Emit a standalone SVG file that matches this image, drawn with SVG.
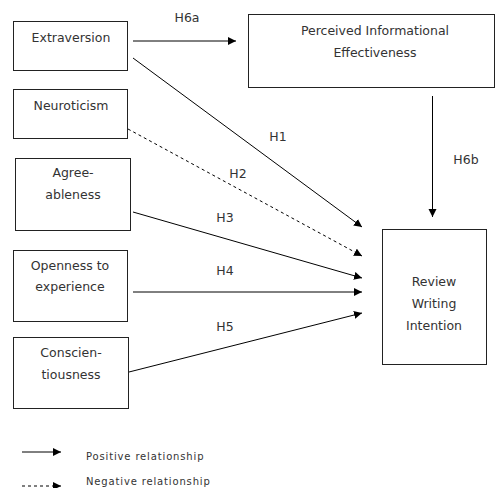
<svg xmlns="http://www.w3.org/2000/svg" width="496" height="488" viewBox="0 0 496 488">
<defs>
<marker id="ah" markerUnits="userSpaceOnUse" markerWidth="10" markerHeight="10" refX="8" refY="4" orient="auto">
<path d="M0,0 L8,4 L0,8 Z" fill="#000"/>
</marker>
<style>
.box{fill:#fff;stroke:#222;stroke-width:1}
.t{font-family:"DejaVu Sans",sans-serif;font-size:12.5px;fill:#333;text-anchor:middle}
.lg{font-family:"DejaVu Sans",sans-serif;font-size:10px;fill:#333;letter-spacing:0.85px}
.c{stroke:#000;stroke-width:1;fill:none;marker-end:url(#ah)}
.d{stroke-dasharray:3,3}
</style>
</defs>
<rect width="496" height="488" fill="#fff"/>
<g id="extraversion"><rect class="box" x="13.5" y="21.5" width="114" height="49"/><text class="t" x="71" y="42">Extraversion</text></g>
<g id="neuroticism"><rect class="box" x="13.5" y="89.5" width="114" height="49"/><text class="t" x="71" y="110">Neuroticism</text></g>
<g id="agreeableness"><rect class="box" x="15.5" y="158.5" width="115" height="72"/><text class="t" x="73" y="177">Agree-</text><text class="t" x="73" y="199">ableness</text></g>
<g id="openness"><rect class="box" x="13.5" y="250.5" width="114" height="71"/><text class="t" x="70" y="270">Openness to</text><text class="t" x="70" y="291">experience</text></g>
<g id="conscientiousness"><rect class="box" x="13.5" y="337.5" width="115" height="71"/><text class="t" x="71" y="357">Conscien-</text><text class="t" x="71" y="379">tiousness</text></g>
<g id="pie"><rect class="box" x="248.5" y="14.5" width="246" height="73"/><text class="t" x="375" y="35">Perceived Informational</text><text class="t" x="375" y="57">Effectiveness</text></g>
<g id="rwi"><rect class="box" x="382.5" y="229.5" width="104" height="135"/><text class="t" x="434" y="286">Review</text><text class="t" x="434" y="308">Writing</text><text class="t" x="434" y="330">Intention</text></g>
<g id="connectors">
<line class="c" x1="133" y1="41" x2="236" y2="41"/>
<line class="c" x1="133" y1="58" x2="362" y2="227"/>
<line class="c d" x1="128" y1="129" x2="362" y2="256"/>
<line class="c" x1="133" y1="212" x2="362" y2="278"/>
<line class="c" x1="133" y1="292" x2="362" y2="292"/>
<line class="c" x1="129" y1="372" x2="362" y2="313"/>
<line class="c" x1="432.5" y1="96" x2="432.5" y2="217"/>
<text class="t" x="187" y="22">H6a</text>
<text class="t" x="278" y="141">H1</text>
<text class="t" x="238" y="178">H2</text>
<text class="t" x="225" y="222">H3</text>
<text class="t" x="225" y="275">H4</text>
<text class="t" x="225" y="331">H5</text>
<text class="t" x="466" y="164">H6b</text>
</g>
<g id="legend">
<line class="c" x1="22" y1="452" x2="61" y2="452"/>
<text class="lg" x="86" y="459.5">Positive relationship</text>
<line class="c d" x1="22" y1="486" x2="61" y2="486"/>
<text class="lg" x="86" y="484.5">Negative relationship</text>
</g>
</svg>
